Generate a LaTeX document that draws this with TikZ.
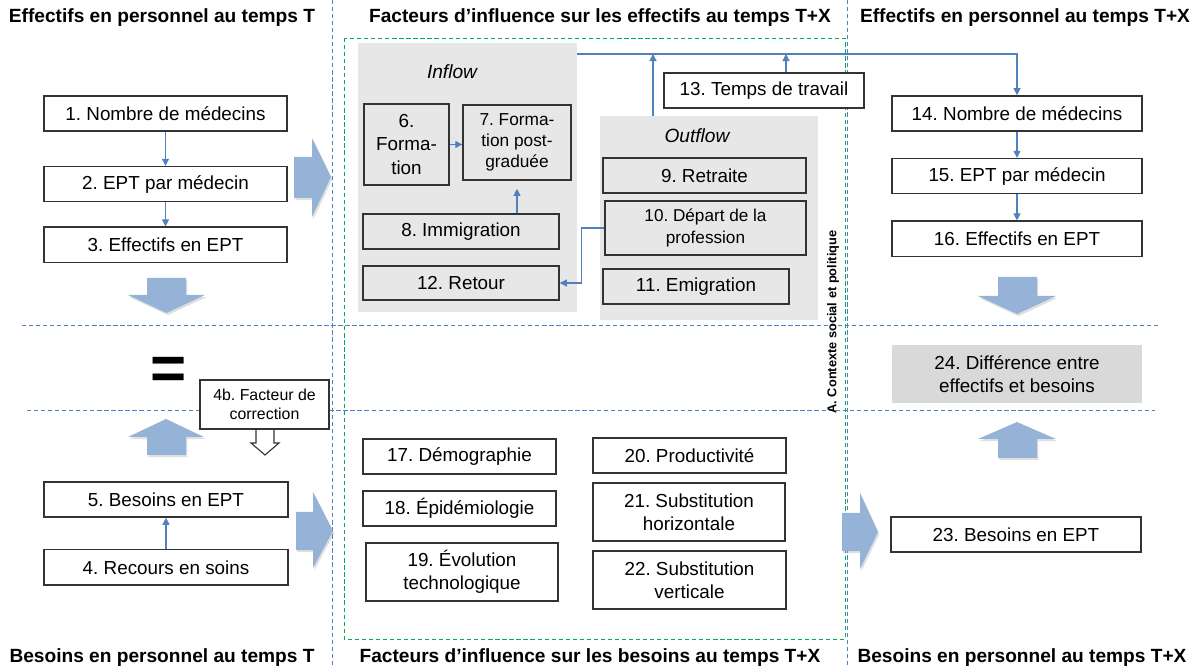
\documentclass[tikz,border=0pt]{standalone}
\usepackage{fontspec}
\setmainfont{Liberation Sans}
\usepackage{tikz}
\usetikzlibrary{arrows.meta,positioning,calc,shadows}

\definecolor{linkblue}{HTML}{4F81BD}
\definecolor{fatblue}{HTML}{95B3D7}
\definecolor{flowgray}{HTML}{E7E7E7}
\definecolor{diffgray}{HTML}{D9D9D9}
\definecolor{ctxgreen}{HTML}{00B050}

\begin{document}
\frenchspacing
\begin{tikzpicture}[
    x=0.025cm, y=-0.025cm,
    font=\fontsize{13.4}{16.5}\selectfont,
    box/.style={draw=black!80, line width=1pt, fill=white, minimum height=0.88cm, inner sep=1pt, align=center},
    flowbox/.style={box, fill=flowgray},
    zone/.style={fill=flowgray, inner sep=0pt},
    link/.style={-{Triangle[length=5pt, width=5pt]}, linkblue, line width=0.8pt},
    sep/.style={linkblue, line width=0.7pt, dash pattern=on 3pt off 2pt},
    fat/.style={fill=fatblue, drop shadow={opacity=0.25, shadow xshift=1pt, shadow yshift=-1.5pt}},
    title/.style={font=\fontsize{13.6}{16}\selectfont\bfseries}
]
    \useasboundingbox (0,0) rectangle (1198,668);

    % Separations
    \draw[sep] (332,0) -- (332,668);
    \draw[sep] (847,0) -- (847,668);
    \draw[sep] (22,325) -- (1158,325);
    \draw[sep] (27,410) -- (1155,410);
    \draw[ctxgreen, line width=0.7pt, dash pattern=on 3pt off 2pt] (344,38) rectangle (845,639);

    % Titles
    \node[title] (hEffT) at (162,18) {Effectifs en personnel au temps T};
    \node[title] (hFacEff) at (600,18) {Facteurs d’influence sur les effectifs au temps T+X};
    \node[title] (hEffTX) at (1025,18) {Effectifs en personnel au temps T+X};
    \node[title] (hBesT) at (162,658) {Besoins en personnel au temps T};
    \node[title] (hFacBes) at (590,658) {Facteurs d’influence sur les besoins au temps T+X};
    \node[title] (hBesTX) at (1022,658) {Besoins en personnel au temps T+X};

    % Effectifs au temps T
    \node[box, minimum width=6.08cm] (n1) at (165.5,113.5) {1. Nombre de médecins};
    \node[box, minimum width=6.08cm, below=0.85cm of n1] (n2) {2. EPT par médecin};
    \node[box, minimum width=6.08cm, below=0.6cm of n2] (n3) {3. Effectifs en EPT};
    \draw[link] (n1) -- (n2);
    \draw[link] (n2) -- (n3);
    \fill[fat] (294,157) -- (312,157) -- (312,138) -- (331,177) -- (312,217) -- (312,198) -- (294,198) -- cycle;
    \fill[fat] (147,278) -- (186,278) -- (186,295) -- (205,295) -- (166.5,313) -- (128,295) -- (147,295) -- cycle;

    % Egalite et correction
    \node[font=\fontsize{44}{44}\selectfont\bfseries] (eq) at (168.5,373) {=};
    \draw[black!80, fill=white, line width=0.8pt] (256,429) -- (256,443) -- (251,443) -- (265,455) -- (279,443) -- (274,443) -- (274,429);
    \node[box, minimum width=3.23cm, minimum height=1.23cm, font=\fontsize{11.3}{13.5}\selectfont] (n4b) at (264.5,404.5) {4b. Facteur de\\correction};

    % Besoins au temps T
    \node[box, minimum width=6.1cm] (n5) at (166,499.5) {5. Besoins en EPT};
    \node[box, minimum width=6.1cm, below=0.78cm of n5] (n4) {4. Recours en soins};
    \draw[link] (n4) -- (n5);
    \fill[fat] (147,455) -- (186,455) -- (186,437) -- (204,437) -- (166,419) -- (128,437) -- (147,437) -- cycle;
    \fill[fat] (296,512) -- (313,512) -- (313,492) -- (333,531) -- (313,568) -- (313,550) -- (296,550) -- cycle;

    % Inflow / Outflow
    \node[zone, minimum width=5.475cm, minimum height=6.725cm] (inflow) at (467.5,177.5) {};
    \node[zone, minimum width=5.45cm, minimum height=5.1cm] (outflow) at (709,218) {};
    \node[font=\fontsize{13.6}{16}\selectfont\itshape] (inLbl) at (452,72) {Inflow};
    \node[font=\fontsize{13.6}{16}\selectfont\itshape] (outLbl) at (697,136) {Outflow};

    \node[flowbox, minimum width=2.13cm, minimum height=2.03cm] (n6) at (406.5,144.5) {6.\\Forma-\\tion};
    \node[flowbox, minimum width=2.7cm, minimum height=1.88cm, font=\fontsize{12.3}{14.7}\selectfont] (n7) at (517,142.5) {7. Forma-\\tion post-\\graduée};
    \node[flowbox, minimum width=4.9cm] (n8) at (461,231.5) {8. Immigration};
    \node[flowbox, minimum width=4.9cm, minimum height=0.85cm] (n12) at (461,283) {12. Retour};
    \node[flowbox, minimum width=5.08cm] (n9) at (704.5,175.5) {9. Retraite};
    \node[flowbox, minimum width=5.03cm, minimum height=1.35cm, font=\fontsize{12.2}{15}\selectfont] (n10) at (705.5,228) {10. Départ de la\\profession};
    \node[flowbox, minimum width=4.65cm] (n11) at (696,286.5) {11. Emigration};
    \node[box, minimum width=5cm] (n13) at (764,90.5) {13. Temps de travail};

    \draw[link] (n6) -- (n6 -| n7.west);
    \draw[link, shorten >=0.2cm] (n7 |- n8.north) -- (n7.south);
    \draw[link] (n10.west) -- ++(-23,0) |- (n12.east);

    \node[rotate=90, font=\fontsize{9.1}{11}\selectfont\bfseries] (ctx) at (833,322) {A. Contexte social et politique};

    % Facteurs sur les besoins
    \node[box, minimum width=4.83cm] (n17) at (459.5,456.5) {17. Démographie};
    \node[box, minimum width=4.83cm] (n18) at (459.5,508.5) {18. Épidémiologie};
    \node[box, minimum width=4.8cm, minimum height=1.45cm] (n19) at (462,572) {19. Évolution\\technologique};
    \node[box, minimum width=4.83cm] (n20) at (689.5,455.5) {20. Productivité};
    \node[box, minimum width=4.8cm, minimum height=1.45cm] (n21) at (689,512) {21. Substitution\\horizontale};
    \node[box, minimum width=4.83cm, minimum height=1.45cm] (n22) at (689.5,580) {22. Substitution\\verticale};

    % Temps T+X
    \node[box, minimum width=6.25cm] (n14) at (1017,113.5) {14. Nombre de médecins};
    \node[box, minimum width=6.25cm, below=0.65cm of n14] (n15) {15. EPT par médecin};
    \node[box, minimum width=6.25cm, below=0.65cm of n15] (n16) {16. Effectifs en EPT};
    \draw[link] (n14) -- (n15);
    \draw[link] (n15) -- (n16);
    \fill[fat] (998,277) -- (1037,277) -- (1037,296) -- (1056,296) -- (1017,314) -- (978,296) -- (998,296) -- cycle;

    \coordinate (bus) at (577,54);
    \draw[link] (inflow.east |- bus) -| (n14);
    \draw[link] (653,0 |- outflow.north) -- (653,0 |- bus);
    \draw[link] (786,0 |- n13.north) -- (786,0 |- bus);

    \node[box, draw=none, fill=diffgray, minimum width=6.25cm, minimum height=1.45cm] (n24) at (1017,374) {24. Différence entre\\effectifs et besoins};
    \fill[fat] (998,458) -- (1037,458) -- (1037,439) -- (1056,439) -- (1017,422) -- (978,439) -- (998,439) -- cycle;

    \node[box, minimum width=6.25cm] (n23) at (1016,534.5) {23. Besoins en EPT};
    \fill[fat] (842,513) -- (860,513) -- (860,493) -- (878,532) -- (860,569) -- (860,551) -- (842,551) -- cycle;
\end{tikzpicture}
\end{document}
